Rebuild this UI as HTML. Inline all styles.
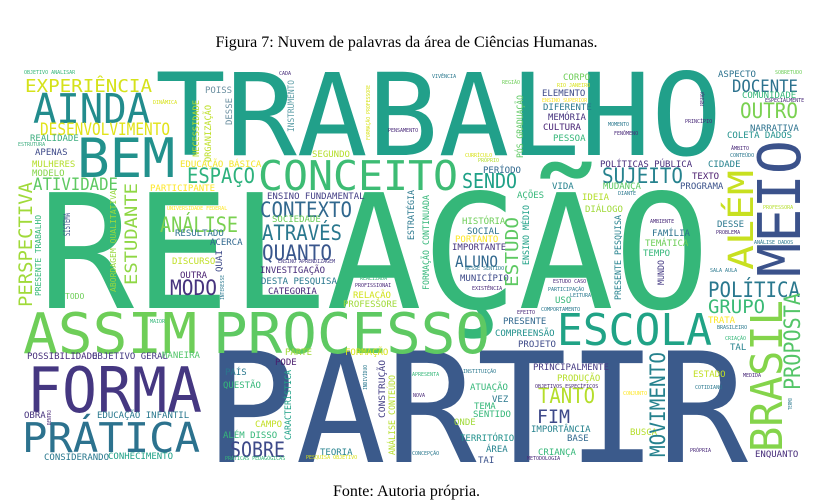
<!DOCTYPE html>
<html><head><meta charset="utf-8">
<style>
html,body{margin:0;padding:0;background:#fff;}
body{width:813px;height:500px;position:relative;overflow:hidden;}
.cap{position:absolute;left:0;width:813px;text-align:center;font-family:"Liberation Serif",serif;font-size:16px;color:#000;}
svg{position:absolute;left:0;top:0;}
svg text{font-family:"DejaVu Sans Mono","Liberation Mono",monospace;}
</style></head>
<body>
<div class="cap" style="top:34px">Figura 7: Nuvem de palavras da área de Ciências Humanas.</div>
<svg id="cloud" width="813" height="500"></svg>
<div class="cap" style="top:483px">Fonte: Autoria própria.</div>
<script>
// horizontal: [text, xLeft, baseline, xRight(or 0), fontSize, color]
const H = [
["TRABALHO",155,155,722,114,"#21a08a"],
["RELAÇÃO",38,308,710,159,"#35b779"],
["PARTIR",205,462,748,153,"#3b5a8b"],
["BEM",77,177,175,54,"#22918c"],
["AINDA",33,123,150,41,"#228c8d"],
["EXPERIÊNCIA",25,92,152,18,"#d5e21a"],
["DESENVOLVIMENTO",40,135,170,17,"#e1e31a"],
["CONCEITO",258,190,458,41,"#3dbc74"],
["SENDO",462,188,517,20,"#1fa187"],
["SUJEITO",602,183,683,21,"#26828e"],
["ESPAÇO",187,183,255,21,"#2db27d"],
["ATIVIDADE",33,190,118,17,"#5ec962"],
["CONTEXTO",260,217,352,21,"#31688e"],
["ATRAVÉS",262,240,342,21,"#2a788e"],
["QUANTO",262,260,332,21,"#39568c"],
["ANÁLISE",160,232,238,21,"#7ad151"],
["MODO",170,295,217,21,"#46337e"],
["ASSIM",23,353,197,56,"#6ece58"],
["PROCESSO",213,353,490,56,"#5ec962"],
["FORMA",27,412,202,62,"#453781"],
["PRÁTICA",22,452,200,41,"#2c728e"],
["SOBRE",230,457,285,21,"#3e4a89"],
["ESCOLA",557,345,712,44,"#20a386"],
["POLÍTICA",708,297,800,21,"#2a788e"],
["GRUPO",708,313,765,19,"#3aba76"],
["TANTO",538,403,595,21,"#b5de2b"],
["FIM",537,423,570,19,"#3e4989"],
["OUTRO",740,118,798,21,"#7ad151"],
["DOCENTE",732,92,798,17,"#2c728e"],
["ALUNO",455,267,498,16,"#31688e"],
["OBJETIVO ANALISAR",24,74,0,5,"#35b779"],
["POISS",205,93,0,9,"#6b8fa0"],
["REALIDADE",30,141,0,9,"#3fae80"],
["ESTRUTURA",18,146,0,5,"#3fae80"],
["APENAS",35,155,0,9,"#3e4a89"],
["MULHERES",32,167,0,9,"#b5de2b"],
["MODELO",32,176,0,9,"#86d549"],
["EDUCAÇÃO BÁSICA",180,167,0,9,"#f3e62a"],
["PARTICIPANTE",150,191,0,9,"#fde725"],
["SEGUNDO",312,157,0,9,"#b5de2b"],
["ENSINO FUNDAMENTAL",267,199,0,9,"#433e85"],
["SOCIEDADE",272,222,0,9,"#6ece58"],
["UNIVERSIDADE FEDERAL",167,210,0,5,"#fde725"],
["RESULTADO",175,236,0,9,"#2c728e"],
["ACERCA",210,245,0,9,"#31688e"],
["DISCURSO",172,264,0,9,"#c0df25"],
["ENSINO APRENDIZAGEM",278,263,0,5,"#443983"],
["INVESTIGAÇÃO",260,273,0,9,"#472c7a"],
["CADA",279,75,0,5,"#472c7a"],
["PENSAMENTO",388,132,0,5,"#482878"],
["DINÂMICA",153,104,0,5,"#d8e219"],
["OUTRA",180,278,0,9,"#481f70"],
["DESTA PESQUISA",261,284,0,9,"#2a788e"],
["CATEGORIA",268,294,0,9,"#482878"],
["TODO",65,299,0,8,"#6ece58"],
["REALIZADA",360,280,0,5,"#35b779"],
["PROFISSIONAI",355,287,0,5,"#482878"],
["RELAÇÃO",353,298,0,9,"#d2e21b"],
["PROFESSORE",343,307,0,9,"#a0da39"],
["MAIOR",150,323,0,5,"#35b779"],
["POSSIBILIDADE",27,359,0,9,"#472d7b"],
["OBJETIVO GERAL",92,359,0,9,"#443983"],
["MANEIRA",162,358,0,9,"#52c569"],
["PARTE",285,355,0,9,"#a0da39"],
["FORMAÇÃO",345,355,0,9,"#d8e219"],
["PODE",275,365,0,9,"#481a6c"],
["PAÍS",225,375,0,9,"#2a788e"],
["QUESTÃO",223,388,0,9,"#35b779"],
["OBRA",24,418,0,9,"#46337e"],
["EDUCAÇÃO INFANTIL",97,418,0,9,"#2a788e"],
["CAMPO",255,427,0,9,"#c2df23"],
["ALÉM DISSO",223,438,0,9,"#35b779"],
["CONSIDERANDO",44,460,0,9,"#2a788e"],
["CONHECIMENTO",108,459,0,9,"#1fa187"],
["TEORIA",320,455,0,9,"#26828e"],
["PESQUISA OBJETIVO",306,459,0,5,"#d8e219"],
["PRÁTICAS PEDAGÓGICAS",225,460,0,5,"#35b779"],
["VIVÊNCIA",432,78,0,5,"#2a788e"],
["REGIÃO",502,84,0,5,"#6ece58"],
["CORPO",563,80,0,9,"#6ece58"],
["RIO JANEIRO",557,87,0,5,"#d8e219"],
["ELEMENTO",542,96,0,9,"#3e4a89"],
["ENSINO SUPERIOR",542,102,0,5,"#fde725"],
["DIFERENTE",543,110,0,9,"#2a788e"],
["MEMÓRIA",548,120,0,9,"#46337e"],
["CULTURA",543,130,0,9,"#482475"],
["PESSOA",553,141,0,9,"#35b779"],
["CURRÍCULO",465,157,0,5,"#d8e219"],
["PRÓPRIO",478,162,0,5,"#b5de2b"],
["ASPECTO",718,77,0,9,"#2c728e"],
["SOBRETUDO",775,74,0,5,"#6ece58"],
["COMUNIDADE",742,98,0,9,"#35b779"],
["ESPECIALMENTE",765,102,0,5,"#482878"],
["MOMENTO",608,126,0,5,"#2a788e"],
["FENÔMENO",614,135,0,5,"#482878"],
["PRINCÍPIO",685,123,0,5,"#482878"],
["NARRATIVA",750,131,0,9,"#2c728e"],
["COLETA DADOS",727,138,0,9,"#21918c"],
["ÂMBITO",731,150,0,5,"#482878"],
["CONTEÚDO",730,157,0,5,"#2a788e"],
["POLÍTICAS PÚBLICA",600,167,0,9,"#472d7b"],
["CIDADE",708,167,0,9,"#26828e"],
["TEXTO",692,179,0,9,"#481a6c"],
["PERÍODO",483,173,0,9,"#31688e"],
["VIDA",552,189,0,9,"#26828e"],
["MUDANÇA",603,189,0,9,"#5ec962"],
["PROGRAMA",680,189,0,9,"#3b528b"],
["DIANTE",618,195,0,5,"#2a788e"],
["AÇÕES",517,198,0,9,"#35b779"],
["IDEIA",582,200,0,9,"#b5de2b"],
["DIÁLOGO",585,212,0,9,"#a0da39"],
["HISTÓRIA",462,224,0,9,"#6ece58"],
["SOCIAL",467,234,0,9,"#2c728e"],
["PORTANTO",455,242,0,9,"#fde725"],
["IMPORTANTE",452,250,0,9,"#46337e"],
["AMBIENTE",650,223,0,5,"#482878"],
["FAMÍLIA",652,236,0,9,"#2c728e"],
["TEMÁTICA",645,246,0,9,"#6ece58"],
["TEMPO",643,256,0,9,"#35b779"],
["DESSE",717,227,0,9,"#2a788e"],
["PROBLEMA",716,234,0,5,"#482878"],
["PROFESSORA",763,209,0,5,"#b5de2b"],
["ANÁLISE DADOS",754,244,0,5,"#2a788e"],
["SALA AULA",710,272,0,5,"#2a788e"],
["NESSE SENTIDO",465,270,0,5,"#2a788e"],
["MUNICÍPIO",460,281,0,9,"#3e4a89"],
["EXISTÊNCIA",472,290,0,5,"#482878"],
["ESTUDO CASO",553,283,0,5,"#482878"],
["PARTICIPAÇÃO",548,291,0,5,"#2a788e"],
["LEITURA",570,297,0,5,"#2a788e"],
["USO",555,303,0,9,"#35b779"],
["EFEITO",517,314,0,5,"#482878"],
["COMPORTAMENTO",541,311,0,5,"#2a788e"],
["PRESENTE",503,324,0,9,"#31688e"],
["COMPREENSÃO",495,336,0,9,"#21918c"],
["PROJETO",518,347,0,9,"#3e4a89"],
["TRATA",708,323,0,9,"#fde725"],
["BRASILEIRO",717,329,0,5,"#2a788e"],
["CRIAÇÃO",725,340,0,5,"#35b779"],
["TAL",730,350,0,9,"#26828e"],
["PRINCIPALMENTE",533,370,0,9,"#443983"],
["PRODUÇÃO",557,381,0,9,"#b5de2b"],
["OBJETIVOS ESPECÍFICOS",535,388,0,5,"#482878"],
["ESTADO",693,377,0,9,"#c2df23"],
["MEDIDA",743,377,0,5,"#482878"],
["COTIDIANO",695,389,0,5,"#2a788e"],
["CONJUNTO",623,395,0,5,"#fde725"],
["INSTITUIÇÃO",463,373,0,5,"#2a788e"],
["APRESENTA",412,376,0,5,"#35b779"],
["NOVA",413,397,0,5,"#482878"],
["ATUAÇÃO",470,390,0,9,"#35b779"],
["VEZ",492,402,0,9,"#2a788e"],
["TEMA",474,409,0,9,"#35b779"],
["SENTIDO",473,417,0,9,"#35b779"],
["ONDE",454,425,0,9,"#a0da39"],
["IMPORTÂNCIA",531,432,0,9,"#26828e"],
["BASE",567,441,0,9,"#31688e"],
["BUSCA",630,435,0,9,"#b5de2b"],
["TERRITÓRIO",460,441,0,9,"#21918c"],
["ÁREA",486,452,0,9,"#26828e"],
["TAI",478,463,0,9,"#3b528b"],
["CRIANÇA",538,455,0,9,"#35b779"],
["METODOLOGIA",527,460,0,5,"#482878"],
["CONCEPÇÃO",412,455,0,5,"#2a788e"],
["PRÓPRIA",690,452,0,5,"#482878"],
["ENQUANTO",755,457,0,9,"#472d7b"]
];
// vertical: [text, xRight, yBottom, yTop, fontSize, color]
const V = [
["ESTUDANTE",137,285,183,17,"#8fd744"],
["PERSPECTIVA",32,307,182,19,"#a0da39"],
["BRASIL",782,452,300,44,"#84d44b"],
["PROPOSTA",800,390,293,22,"#54c568"],
["MOVIMENTO",665,457,352,21,"#26828e"],
["MEIO",800,277,140,59,"#3b528b"],
["ALÉM",753,270,170,35,"#c8e020"],
["ESTUDO",518,287,217,18,"#5ec962"],
["DESSE",232,125,98,9,"#6b8fa0"],
["NECESSIDADE",199,157,100,9,"#b8de29"],
["ORGANIZAÇÃO",211,162,105,9,"#bddf26"],
["INSTRUMENTO",294,132,80,9,"#5f9fa8"],
["FORMAÇÃO PROFESSORE",370,140,85,5,"#d8e219"],
["QUAI",222,272,250,9,"#3e4a89"],
["SISTEMA",70,236,213,9,"#3b528b"],
["PRESENTE TRABALHO",41,296,215,8,"#35b779"],
["ABORDAGEM QUALITATIVA",116,292,190,8,"#98d83e"],
["INTERESSE",224,300,275,5,"#2a788e"],
["CARACTERÍSTICA",291,440,370,9,"#1fa187"],
["INDIVÍDUO",367,390,365,5,"#2a788e"],
["CONSTRUÇÃO",385,418,360,9,"#433e85"],
["ANÁLISE CONTEÚDO",395,455,375,9,"#b5de2b"],
["DENTRO",51,425,410,5,"#482878"],
["PÓS GRADUAÇÃO",523,158,95,9,"#5ec962"],
["PRESENÇA",704,106,92,5,"#482878"],
["ESTRATÉGIA",414,240,190,9,"#2a788e"],
["FORMAÇÃO CONTINUADA",429,290,195,9,"#35b779"],
["ENSINO MÉDIO",529,265,205,9,"#1fa187"],
["PRESENTE PESQUISA",621,300,215,9,"#26828e"],
["MUNDO",664,285,260,9,"#443983"],
["TERMO",792,410,398,5,"#2a788e"]
];
const svg = document.getElementById('cloud');
const NS = 'http://www.w3.org/2000/svg';
for (const w of H) {
  const el = document.createElementNS(NS, 'text');
  
  
  el.setAttribute('x', w[1]);
  el.setAttribute('y', w[2]);
  el.setAttribute('font-size', w[4]);
  el.setAttribute('fill', w[5]);
  if (w[3]) { el.setAttribute('textLength', w[3] - w[1]); el.setAttribute('lengthAdjust', 'spacingAndGlyphs'); }
  el.textContent = w[0];
  svg.appendChild(el);
}
for (const w of V) {
  const el = document.createElementNS(NS, 'text');
  
  
  el.setAttribute('x', 0);
  el.setAttribute('y', 0);
  el.setAttribute('transform', 'translate(' + w[1] + ',' + w[2] + ') rotate(-90)');
  el.setAttribute('font-size', w[4]);
  el.setAttribute('fill', w[5]);
  el.setAttribute('textLength', w[2] - w[3]);
  el.setAttribute('lengthAdjust', 'spacingAndGlyphs');
  el.textContent = w[0];
  svg.appendChild(el);
}
</script>
</body></html>
